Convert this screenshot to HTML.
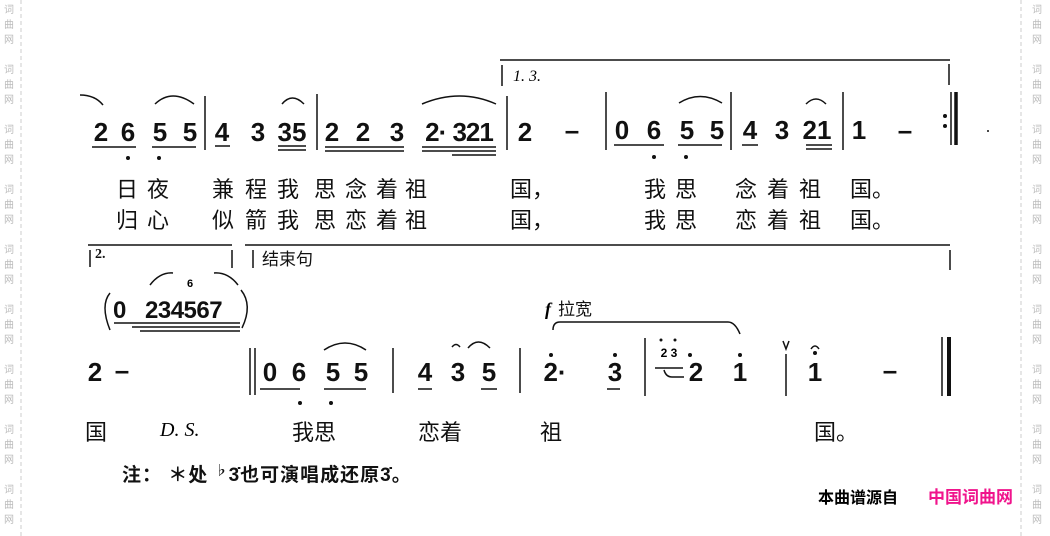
<!DOCTYPE html>
<html><head><meta charset="utf-8"><style>
html,body{margin:0;padding:0;background:#fff;}
svg{display:block;}
.n{font:bold 26px "Liberation Sans",sans-serif;fill:#111;}
.l{font:22px "Liberation Sans","Noto Sans CJK SC",sans-serif;fill:#111;}
.w{font:10px "Noto Sans CJK SC",sans-serif;fill:#bbb;}
</style></head><body>
<svg width="1050" height="536" viewBox="0 0 1050 536" xmlns="http://www.w3.org/2000/svg">
<line x1="21" y1="0" x2="21" y2="536" stroke="#ccc" stroke-dasharray="4,3"/>
<line x1="1021" y1="0" x2="1021" y2="536" stroke="#ccc" stroke-dasharray="4,3"/>
<g class="w" text-anchor="middle">
<text x="9" y="13">词</text><text x="9" y="28">曲</text><text x="9" y="43">网</text>
<text x="9" y="73">词</text><text x="9" y="88">曲</text><text x="9" y="103">网</text>
<text x="9" y="133">词</text><text x="9" y="148">曲</text><text x="9" y="163">网</text>
<text x="9" y="193">词</text><text x="9" y="208">曲</text><text x="9" y="223">网</text>
<text x="9" y="253">词</text><text x="9" y="268">曲</text><text x="9" y="283">网</text>
<text x="9" y="313">词</text><text x="9" y="328">曲</text><text x="9" y="343">网</text>
<text x="9" y="373">词</text><text x="9" y="388">曲</text><text x="9" y="403">网</text>
<text x="9" y="433">词</text><text x="9" y="448">曲</text><text x="9" y="463">网</text>
<text x="9" y="493">词</text><text x="9" y="508">曲</text><text x="9" y="523">网</text>
<text x="1037" y="13">词</text><text x="1037" y="28">曲</text><text x="1037" y="43">网</text>
<text x="1037" y="73">词</text><text x="1037" y="88">曲</text><text x="1037" y="103">网</text>
<text x="1037" y="133">词</text><text x="1037" y="148">曲</text><text x="1037" y="163">网</text>
<text x="1037" y="193">词</text><text x="1037" y="208">曲</text><text x="1037" y="223">网</text>
<text x="1037" y="253">词</text><text x="1037" y="268">曲</text><text x="1037" y="283">网</text>
<text x="1037" y="313">词</text><text x="1037" y="328">曲</text><text x="1037" y="343">网</text>
<text x="1037" y="373">词</text><text x="1037" y="388">曲</text><text x="1037" y="403">网</text>
<text x="1037" y="433">词</text><text x="1037" y="448">曲</text><text x="1037" y="463">网</text>
<text x="1037" y="493">词</text><text x="1037" y="508">曲</text><text x="1037" y="523">网</text>
</g>

<g stroke="#111" fill="none" stroke-width="1.5">
<line x1="500" y1="60" x2="950" y2="60"/>
<line x1="502" y1="65" x2="502" y2="86"/>
<line x1="949" y1="64" x2="949" y2="85"/>
<line x1="205" y1="96" x2="205" y2="150"/>
<line x1="317" y1="94" x2="317" y2="150"/>
<line x1="507" y1="96" x2="507" y2="150"/>
<line x1="606" y1="92" x2="606" y2="150"/>
<line x1="731" y1="92" x2="731" y2="150"/>
<line x1="843" y1="92" x2="843" y2="150"/>
<line x1="951" y1="92" x2="951" y2="145"/>
<line x1="956" y1="92" x2="956" y2="145" stroke-width="3.5"/>
<path d="M80 95 Q95 95 103 105"/>
<path d="M155 104 Q172 88 194 104"/>
<path d="M282 104 Q292 92 304 104"/>
<path d="M422 104 Q460 88 496 104"/>
<path d="M679 103 Q700 90 722 103"/>
<path d="M806 104 Q816 94 826 104"/>
<line x1="92" y1="147" x2="136" y2="147"/>
<line x1="152" y1="147" x2="196" y2="147"/>
<line x1="215" y1="146" x2="230" y2="146"/>
<line x1="278" y1="146" x2="306" y2="146"/><line x1="278" y1="150" x2="306" y2="150"/>
<line x1="325" y1="147" x2="404" y2="147"/><line x1="325" y1="151" x2="404" y2="151"/>
<line x1="422" y1="147" x2="496" y2="147"/><line x1="422" y1="151" x2="496" y2="151"/><line x1="452" y1="155" x2="496" y2="155"/>
<line x1="614" y1="145" x2="664" y2="145"/>
<line x1="678" y1="145" x2="722" y2="145"/>
<line x1="742" y1="145" x2="758" y2="145"/>
<line x1="806" y1="145" x2="832" y2="145"/><line x1="806" y1="149" x2="832" y2="149"/>
</g>
<g fill="#111">
<circle cx="128" cy="158" r="2"/><circle cx="159" cy="158" r="2"/>
<circle cx="654" cy="157" r="2"/><circle cx="686" cy="157" r="2"/>
<circle cx="945" cy="116" r="2"/><circle cx="945" cy="126" r="2"/>
<circle cx="988" cy="131" r="1"/>
</g>
<text x="513" y="81" style="font:italic 16px 'Liberation Serif',serif">1. 3.</text>
<g class="n" text-anchor="middle">
<text x="101" y="141">2</text><text x="128" y="141">6</text><text x="160" y="141">5</text><text x="190" y="141">5</text>
<text x="222" y="141">4</text><text x="258" y="141">3</text><text x="292" y="141">35</text>
<text x="332" y="141">2</text><text x="363" y="141">2</text><text x="397" y="141">3</text>
<text x="459" y="141" style="letter-spacing:-1px">2· 321</text>
<text x="525" y="141">2</text><text x="572" y="139">–</text>
<text x="622" y="139">0</text><text x="654" y="139">6</text><text x="687" y="139">5</text><text x="717" y="139">5</text>
<text x="750" y="139">4</text><text x="782" y="139">3</text><text x="817" y="139">21</text>
<text x="859" y="139">1</text><text x="905" y="139">–</text>
</g>
<g class="l" text-anchor="middle">
<text x="127" y="197">日</text><text x="158" y="197">夜</text>
<text x="223" y="197">兼</text><text x="256" y="197">程</text><text x="288" y="197">我</text>
<text x="325" y="197">思</text><text x="356" y="197">念</text><text x="387" y="197">着</text><text x="416" y="197">祖</text>
<text x="532" y="197">国，</text>
<text x="655" y="197">我</text><text x="686" y="197">思</text>
<text x="746" y="197">念</text><text x="778" y="197">着</text><text x="810" y="197">祖</text><text x="872" y="197">国。</text>
<text x="127" y="228">归</text><text x="158" y="228">心</text>
<text x="223" y="228">似</text><text x="256" y="228">箭</text><text x="288" y="228">我</text>
<text x="325" y="228">思</text><text x="356" y="228">恋</text><text x="387" y="228">着</text><text x="416" y="228">祖</text>
<text x="532" y="228">国，</text>
<text x="655" y="228">我</text><text x="686" y="228">思</text>
<text x="746" y="228">恋</text><text x="778" y="228">着</text><text x="810" y="228">祖</text><text x="872" y="228">国。</text>
</g>

<g stroke="#111" fill="none" stroke-width="1.5">
<line x1="88" y1="245" x2="232" y2="245"/>
<line x1="90" y1="250" x2="90" y2="267"/>
<line x1="232" y1="250" x2="232" y2="268"/>
<line x1="245" y1="245" x2="950" y2="245"/>
<line x1="253" y1="250" x2="253" y2="268"/>
<line x1="950" y1="250" x2="950" y2="270"/>
<path d="M110 293 Q100 305 110 330"/>
<path d="M241 290 Q253 305 242 328"/>
<path d="M150 285 Q160 272 173 273"/>
<path d="M214 273 Q228 272 238 285"/>
<line x1="114" y1="323" x2="240" y2="323"/>
<line x1="132" y1="327" x2="240" y2="327"/><line x1="140" y1="331" x2="240" y2="331"/>
<line x1="250" y1="348" x2="250" y2="395"/><line x1="255" y1="348" x2="255" y2="395"/>
<line x1="393" y1="348" x2="393" y2="393"/>
<line x1="520" y1="348" x2="520" y2="393"/>
<line x1="645" y1="338" x2="645" y2="396"/>
<line x1="786" y1="354" x2="786" y2="396"/>
<line x1="942" y1="337" x2="942" y2="396"/>
<line x1="949" y1="337" x2="949" y2="396" stroke-width="4"/>
<path d="M324 350 Q345 336 366 350"/>
<path d="M468 348 Q478 336 490 348"/>
<path d="M452 347 Q456 342 460 347"/>
<path d="M811 349 Q815 343 819 349"/>
<path d="M553 330 Q553 322 560 322 L728 322 Q735 322 740 334"/>
<path d="M783 341 L786 349 L789 341"/>
<line x1="260" y1="389" x2="300" y2="389"/>
<line x1="324" y1="389" x2="366" y2="389"/>
<line x1="418" y1="389" x2="432" y2="389"/>
<line x1="481" y1="389" x2="497" y2="389"/>
<line x1="607" y1="389" x2="620" y2="389"/>
<line x1="655" y1="368" x2="683" y2="368"/>
<path d="M664 370 Q666 377 672 377 L684 377"/>
</g>
<g fill="#111">
<circle cx="300" cy="403" r="2"/><circle cx="331" cy="403" r="2"/>
<circle cx="551" cy="355" r="2"/><circle cx="615" cy="355" r="2"/>
<circle cx="661" cy="340" r="1.5"/><circle cx="675" cy="340" r="1.5"/>
<circle cx="690" cy="355" r="2"/><circle cx="740" cy="355" r="2"/>
<circle cx="815" cy="353" r="2"/>
</g>
<text x="190" y="287" style="font:bold 11px 'Liberation Sans',sans-serif" text-anchor="middle">6</text>
<g class="n">
<text x="113" y="318" style="font-size:24px">0</text>
<text x="145" y="318" style="font-size:24px;letter-spacing:-0.5px">234567</text>
</g>
<g class="l"><text x="95" y="258" style="font:bold 14px 'Liberation Serif',serif">2.</text>
<text x="262" y="265" style="font-size:17px">结束句</text></g>
<text x="545" y="315" style="font:italic bold 18px 'Liberation Serif',serif">f</text>
<text x="558" y="315" class="l" style="font-size:17px">拉宽</text>
<g class="n" text-anchor="middle">
<text x="95" y="381">2</text><text x="122" y="379">–</text>
<text x="270" y="381">0</text><text x="299" y="381">6</text><text x="333" y="381">5</text><text x="361" y="381">5</text>
<text x="425" y="381">4</text><text x="458" y="381">3</text><text x="489" y="381">5</text>
<text x="555" y="381">2·</text><text x="615" y="381">3</text>
<text x="696" y="381">2</text><text x="740" y="381">1</text>
<text x="815" y="381">1</text><text x="890" y="379">–</text>
</g>
<text x="669" y="357" text-anchor="middle" style="font:bold 12px 'Liberation Sans',sans-serif">2 3</text>
<g class="l" text-anchor="middle">
<text x="96" y="440">国</text>
<text x="314" y="440">我思</text><text x="440" y="440">恋着</text><text x="551" y="440">祖</text>
<text x="836" y="440">国。</text>
</g>
<text x="160" y="436" style="font:italic 20px 'Liberation Serif',serif">D. S.</text>
<text x="122" y="481" class="l" style="font-size:19px;font-weight:bold;letter-spacing:1px">注：  ＊处 <tspan style="font-size:13px" dy="-6">♭</tspan><tspan dy="6">3̇</tspan>也可演唱成还原<tspan>3̇</tspan>。</text>
<text x="818" y="503" style="font:bold 16px 'Noto Sans CJK SC',sans-serif;fill:#000">本曲谱源自</text>
<text x="928" y="503" style="font:bold 17px 'Noto Sans CJK SC',sans-serif;fill:#f0148c">中国词曲网</text>
</svg>
</body></html>
